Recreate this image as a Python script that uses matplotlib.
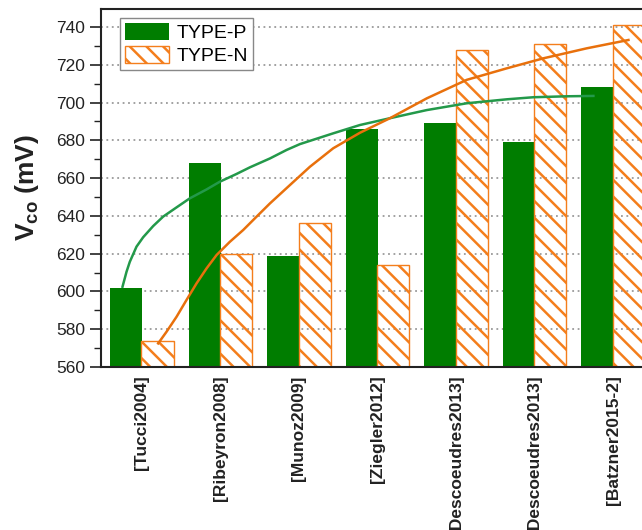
import matplotlib
matplotlib.use("Agg")
import matplotlib.pyplot as plt
import matplotlib.ticker as ticker
import numpy as np

# data
refs = ["[Tucci2004]", "[Ribeyron2008]", "[Munoz2009]", "[Ziegler2012]",
        "[Descoeudres2013]", "[Descoeudres2013]", "[Batzner2015-2]"]
type_p = [602, 668, 619, 686, 689, 679, 708]
type_n = [574, 620, 636, 614, 728, 731, 741]

# trend curves (x in category units)
fit_p_x = [-0.246, -0.195, -0.153, -0.068, 0.017, 0.144, 0.271, 0.442, 0.611, 0.824,
           0.994, 1.206, 1.376, 1.631, 1.843, 2.013, 2.437, 2.777, 3.159, 3.627,
           4.136, 4.646, 4.985, 5.410, 5.749]
fit_p_y = [602.5, 610.4, 615.7, 623.7, 628.7, 634.6, 639.6, 644.5, 649.3, 654.0,
           658.1, 662.2, 665.7, 670.4, 674.9, 678.0, 683.7, 688.1, 691.7, 696.0,
           699.6, 701.7, 702.8, 703.3, 703.5]
fit_n_x = [0.208, 0.315, 0.442, 0.569, 0.697, 0.824, 0.952, 1.121, 1.290, 1.461,
           1.631, 1.885, 2.140, 2.437, 2.777, 3.159, 3.627, 4.136, 4.646, 5.112,
           5.665, 6.195]
fit_n_y = [572.5, 578.7, 586.6, 595.5, 604.3, 612.2, 619.3, 626.3, 632.5, 639.6,
           646.6, 656.3, 666.0, 675.8, 684.0, 691.7, 702.2, 712.0, 718.1, 723.4,
           728.7, 733.1]

green = "#007d00"
orange = "#f47e1c"
green_line = "#23994a"
orange_line = "#e8700c"
dark = "#222222"

plt.rcParams["font.family"] = ["Liberation Sans", "DejaVu Sans"]
plt.rcParams["mathtext.fontset"] = "custom"
plt.rcParams["mathtext.rm"] = "Liberation Sans"
plt.rcParams["mathtext.bf"] = "Liberation Sans:bold"
plt.rcParams["hatch.linewidth"] = 1.8

figure = plt.figure(figsize=(6.42, 5.30), dpi=100)
# axes run past the right edge, as in the cropped original
axes = figure.add_axes([0.1573, 0.3075, 0.865, 0.6755])

positions = np.arange(len(refs))
axes.bar(positions - 0.2, type_p, width=0.41, color=green, zorder=2, label="TYPE-P")
axes.bar(positions + 0.2, type_n, width=0.41, facecolor="none", edgecolor=orange,
         hatch="\\\\", linewidth=1.0, zorder=2, label="TYPE-N")
axes.plot(fit_p_x, fit_p_y, color=green_line, linewidth=1.8, zorder=3,
          solid_joinstyle="round")
axes.plot(fit_n_x, fit_n_y, color=orange_line, linewidth=1.8, zorder=3,
          solid_joinstyle="round")

axes.set_xlim(-0.52, 6.55)
axes.set_ylim(560, 749.5)
axes.yaxis.set_major_locator(ticker.MultipleLocator(20))
axes.yaxis.set_minor_locator(ticker.MultipleLocator(10))
axes.yaxis.grid(True, which="major", linestyle=(0, (1, 2)), color="#9a9a9a", linewidth=1.3)
axes.set_axisbelow(True)

axes.set_xticks(positions)
axes.set_xticklabels(refs, rotation=90, fontsize=12.5, fontweight="bold", color=dark)
axes.tick_params(axis="x", length=0, pad=6)
axes.tick_params(axis="y", which="major", direction="out", length=8, width=1.2,
                 labelsize=12.5, labelcolor=dark, color=dark)
axes.tick_params(axis="y", which="minor", direction="out", length=5, width=1.0, color=dark)
for spine in axes.spines.values():
    spine.set_linewidth(1.5)
    spine.set_color(dark)

axes.set_ylabel(r"$\mathbf{V}_{\mathbf{co}}$ (mV)", fontsize=19, fontweight="bold", color=dark)
axes.yaxis.set_label_coords(-0.108, 0.5)

legend = axes.legend(loc="upper left", bbox_to_anchor=(0.034, 0.975), borderaxespad=0,
                     fontsize=14, handlelength=2.3, handleheight=1.0, fancybox=False,
                     edgecolor="#888888", framealpha=1, borderpad=0.25,
                     labelspacing=0.2, handletextpad=0.35)
legend.get_frame().set_linewidth(1.0)

figure.savefig("out.png", dpi=100)
